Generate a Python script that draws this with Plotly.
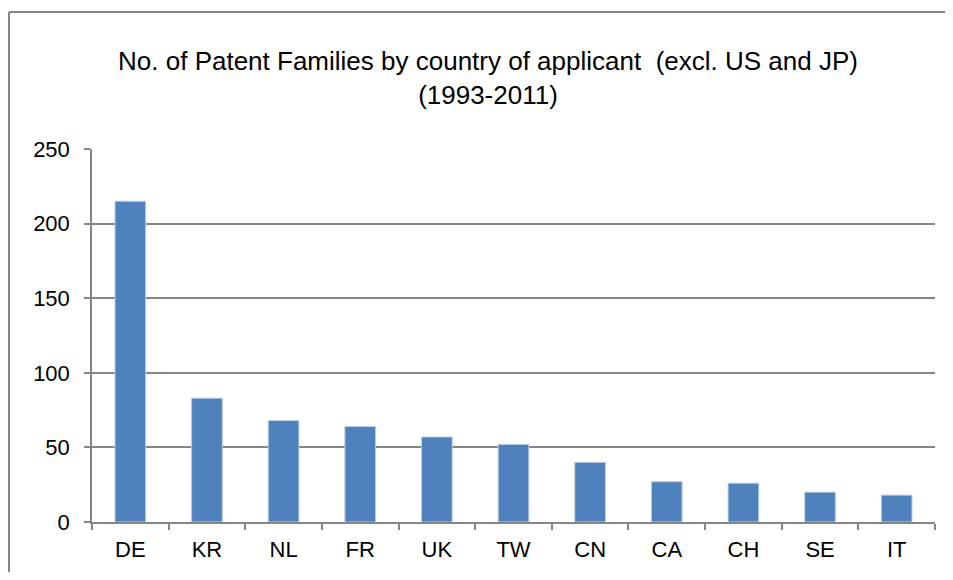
import plotly.graph_objects as go

countries = ["DE", "KR", "NL", "FR", "UK", "TW", "CN", "CA", "CH", "SE", "IT"]
families = [215, 83, 68, 64, 57, 52, 40, 27, 26, 20, 18]
y_ticks = [0, 50, 100, 150, 200, 250]

FONT = "Liberation Sans"
GRID = "#868686"

# figure is drawn 8px in from the page corner (body margin); keep it inside the window
W, H = 937, 564
L, R, T, B = 84, 10, 141, 50
PW, PH = W - L - R, H - T - B

fig = go.Figure(go.Bar(
    x=countries, y=families,
    marker=dict(color="#4F81BD", line=dict(color="#B9CDE5", width=1)),
    width=0.4,
))

bx0 = (1 - L) / PW
by1 = (PH + T - 4) / PH
fig.update_layout(
    width=W, height=H,
    margin=dict(l=L, r=R, t=T, b=B),
    paper_bgcolor="white", plot_bgcolor="white",
    showlegend=False,
    font=dict(family=FONT, color="#000000"),
    title=dict(
        text="No. of Patent Families by country of applicant  (excl. US and JP)<br>(1993-2011)",
        x=480 / W, xanchor="center", xref="container",
        y=1 - 62 / H, yanchor="top",
        font=dict(family=FONT, size=26, color="#000000"),
    ),
    shapes=[
        dict(type="line", xref="paper", yref="paper",
             x0=bx0, x1=(W - L) / PW, y0=by1, y1=by1,
             line=dict(color="#868686", width=2), layer="below"),
        dict(type="line", xref="paper", yref="paper",
             x0=bx0, x1=bx0, y0=-B / PH, y1=by1,
             line=dict(color="#868686", width=2), layer="below"),
    ],
)

fig.update_xaxes(
    showline=True, linecolor=GRID, linewidth=1.5,
    ticks="outside", tickson="boundaries", ticklen=6, tickcolor=GRID, tickwidth=1.5,
    tickfont=dict(family=FONT, size=22, color="#000000"),
    ticklabelstandoff=7,
    showgrid=False,
)
fig.update_yaxes(
    range=[0, 250], tickvals=y_ticks,
    showline=True, linecolor=GRID, linewidth=1.5,
    ticks="outside", ticklen=6, tickcolor=GRID, tickwidth=1.5,
    showgrid=True, gridcolor=GRID, gridwidth=1.5,
    tickfont=dict(family=FONT, size=22, color="#000000"),
    ticklabelstandoff=10,
    zeroline=False,
)

fig.write_html("out.html")
